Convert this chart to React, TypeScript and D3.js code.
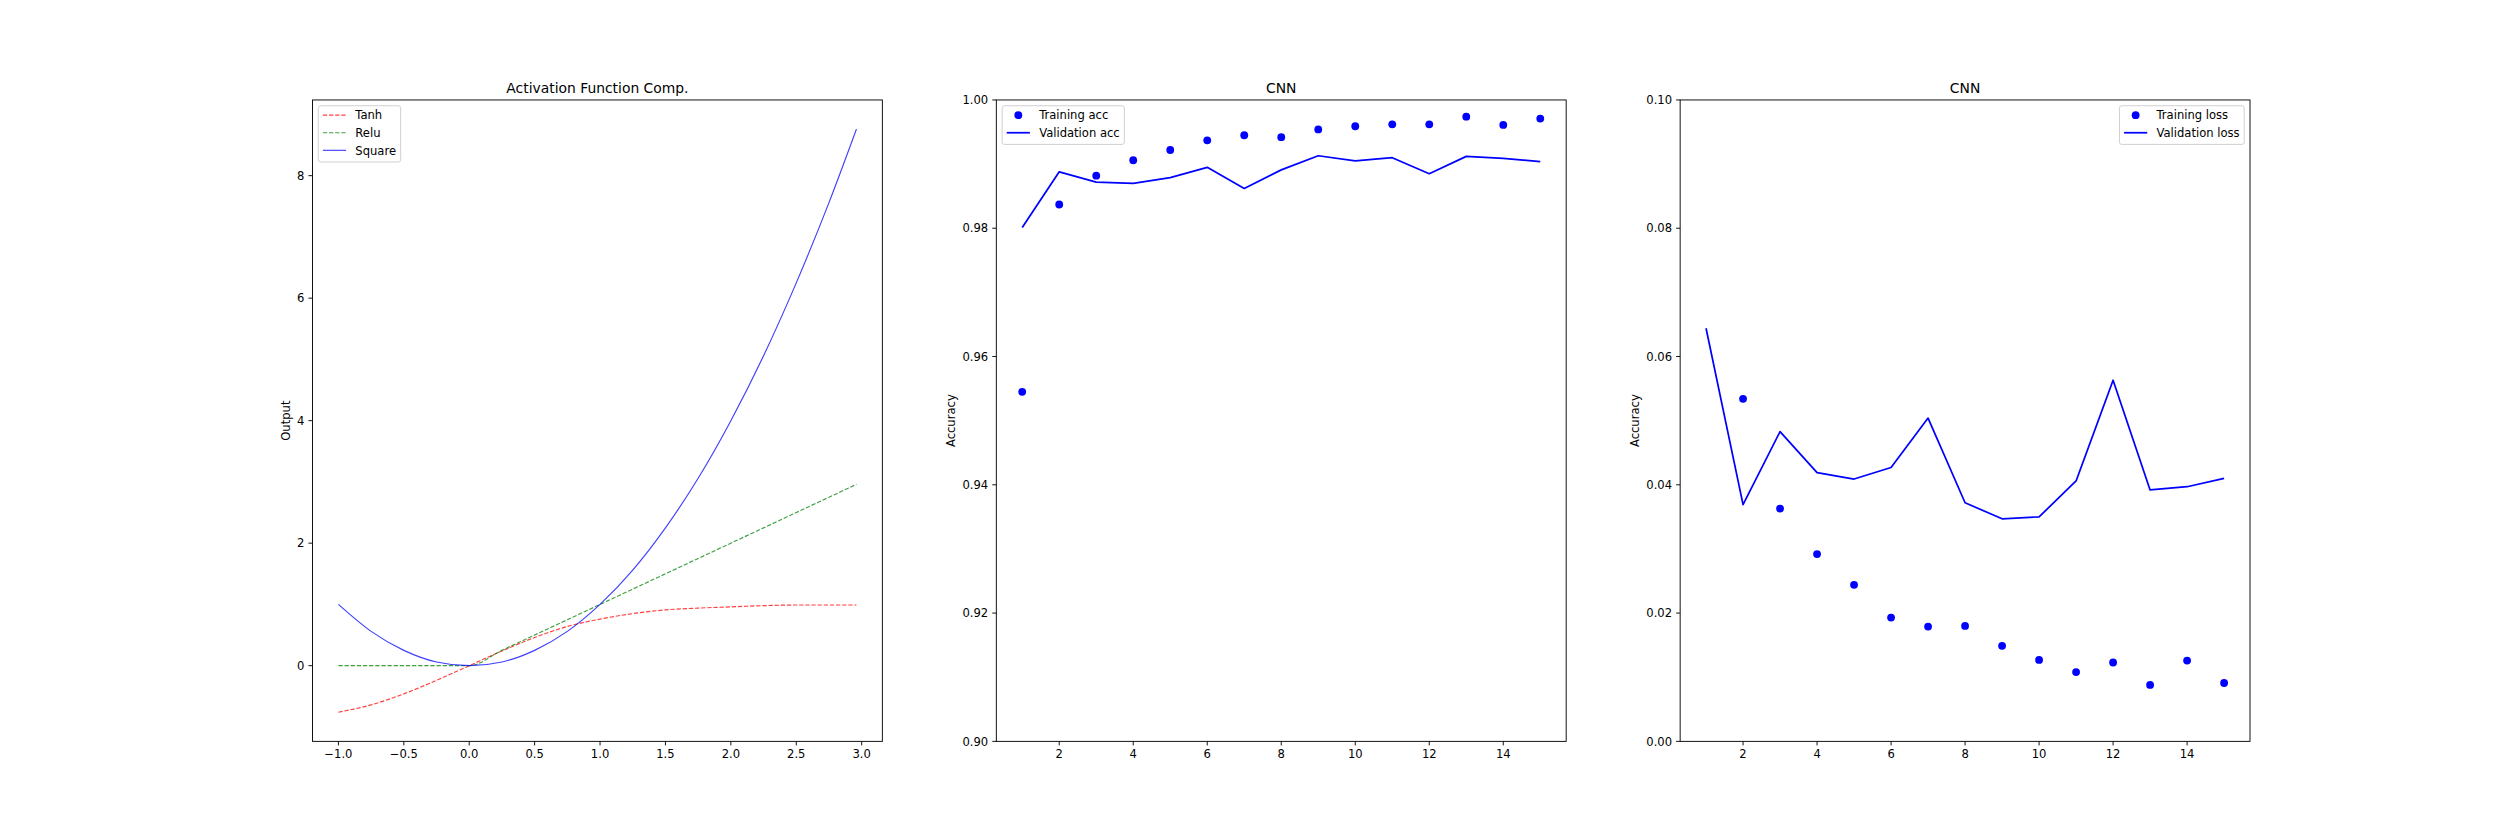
import React, { useEffect } from 'react';
import * as d3 from 'd3';

// ---------- data ----------
const actX = [-1, -0.75, -0.5, -0.25, 0, 0.25, 0.5, 0.75, 1, 1.25, 1.5, 1.75, 2, 2.25, 2.5, 2.75, 2.96];
const tanhY = [-0.76, -0.64, -0.46, -0.24, 0, 0.24, 0.46, 0.64, 0.76, 0.85, 0.91, 0.94, 0.96, 0.98, 0.99, 0.99, 0.99];
const reluY = [0, 0, 0, 0, 0, 0.25, 0.5, 0.75, 1, 1.25, 1.5, 1.75, 2, 2.25, 2.5, 2.75, 2.96];
const squareY = [1, 0.56, 0.25, 0.06, 0, 0.06, 0.25, 0.56, 1, 1.56, 2.25, 3.06, 4, 5.06, 6.25, 7.56, 8.76];

const epochs = [1, 2, 3, 4, 5, 6, 7, 8, 9, 10, 11, 12, 13, 14, 15];
const trainAcc = [0.9545, 0.9837, 0.9882, 0.9906, 0.9922, 0.9937, 0.9945, 0.9942, 0.9954, 0.9959, 0.9962, 0.9962, 0.9974, 0.9961, 0.9971];
const valAcc = [0.9801, 0.9888, 0.9872, 0.987, 0.9879, 0.9895, 0.9862, 0.9891, 0.9913, 0.9905, 0.991, 0.9885, 0.9912, 0.9909, 0.9904];
const trainLoss = [0.145, 0.0534, 0.0363, 0.0292, 0.0244, 0.0193, 0.0179, 0.018, 0.0149, 0.0127, 0.0108, 0.0123, 0.0088, 0.0126, 0.0091];
const valLoss = [0.0644, 0.0369, 0.0483, 0.0419, 0.0409, 0.0427, 0.0504, 0.0372, 0.0347, 0.035, 0.0406, 0.0563, 0.0392, 0.0397, 0.041];

const actXTicks = [-1, -0.5, 0, 0.5, 1, 1.5, 2, 2.5, 3];
const actYTicks = [0, 2, 4, 6, 8];
const epochTicks = [2, 4, 6, 8, 10, 12, 14];
const accTicks = [0.9, 0.92, 0.94, 0.96, 0.98, 1.0];
const lossTicks = [0, 0.02, 0.04, 0.06, 0.08, 0.1];

// ---------- layout ----------
const FIG_W = 2500;
const FIG_H = 833;
const PT = FIG_W / 30 / 72;
const FS = 10 * PT;
const TFS = 12 * PT;
const FONT = "'DejaVu Sans', sans-serif";
const SP = { left: 0.125, right: 0.9, bottom: 0.11, top: 0.88, wspace: 0.2 };
const AX_W = ((SP.right - SP.left) * FIG_W) / (3 + 2 * SP.wspace);
const boxes = [0, 1, 2].map((i) => ({
  x: SP.left * FIG_W + i * AX_W * (1 + SP.wspace),
  y: (1 - SP.top) * FIG_H,
  w: AX_W,
  h: (SP.top - SP.bottom) * FIG_H,
}));

let measureCtx: CanvasRenderingContext2D | null = null;
function textWidth(s: string, size: number) {
  if (typeof document === 'undefined') return s.length * size * 0.6;
  if (!measureCtx) measureCtx = document.createElement('canvas').getContext('2d');
  if (!measureCtx) return s.length * size * 0.6;
  measureCtx.font = `${size}px 'DejaVu Sans'`;
  return measureCtx.measureText(s).width;
}

type Box = { x: number; y: number; w: number; h: number };
type LegendEntry = { label: string; kind: 'line' | 'marker'; color: string; opacity?: number; dash?: string; width?: number };

function Legend({ box, entries, loc }: { box: Box; entries: LegendEntry[]; loc: 'ul' | 'ur' }) {
  const borderAx = 0.5 * FS;
  const borderPad = 0.4 * FS;
  const labelSp = 0.5 * FS;
  const handleLen = 2 * FS;
  const handlePad = 0.8 * FS;
  const rowH = 11.8;
  const tw = Math.max(...entries.map((e) => textWidth(e.label, FS)));
  const lw = 2 * borderPad + handleLen + handlePad + tw;
  const lh = 2 * borderPad + entries.length * rowH + (entries.length - 1) * labelSp;
  const lx = loc === 'ul' ? box.x + borderAx : box.x + box.w - borderAx - lw;
  const ly = box.y + borderAx;
  return (
    <g>
      <rect x={lx} y={ly} width={lw} height={lh} rx={0.2 * FS} fill="#fff" fillOpacity={0.8} stroke="#cccccc" strokeWidth={0.8 * PT} />
      {entries.map((e, i) => {
        const rowTop = ly + borderPad + i * (rowH + labelSp);
        const base = rowTop + rowH - 0.236 * FS;
        const hy = base - 4.3;
        const hx0 = lx + borderPad;
        return (
          <g key={e.label}>
            {e.kind === 'line' ? (
              <line x1={hx0} x2={hx0 + handleLen} y1={hy} y2={hy} stroke={e.color} strokeOpacity={e.opacity ?? 1} strokeWidth={e.width ?? 1.5 * PT} strokeDasharray={e.dash} />
            ) : (
              <circle cx={hx0 + handleLen / 2} cy={hy} r={3.9} fill={e.color} />
            )}
            <text x={hx0 + handleLen + handlePad} y={base} fontSize={FS} fontFamily={FONT} fill="#000">
              {e.label}
            </text>
          </g>
        );
      })}
    </g>
  );
}

function Axes(props: {
  id: string;
  box: Box;
  x: d3.ScaleLinear<number, number>;
  y: d3.ScaleLinear<number, number>;
  xTicks: number[];
  yTicks: number[];
  xFmt: (n: number) => string;
  yFmt: (n: number) => string;
  title: string;
  ylabel: string;
  children: React.ReactNode;
  legend: React.ReactNode;
}) {
  const { id, box, x, y, xTicks, yTicks, xFmt, yFmt, title, ylabel, children, legend } = props;
  const tickLen = 3.5 * PT;
  const pad = 3.5 * PT;
  const lineW = 0.8 * PT;
  const yLabels = yTicks.map(yFmt);
  const maxW = Math.max(...yLabels.map((s) => textWidth(s, FS)));
  const ylabelX = box.x - tickLen - pad - maxW - 4 * PT - 0.236 * FS;
  const bottom = box.y + box.h;
  return (
    <g>
      <defs>
        <clipPath id={id}>
          <rect x={box.x} y={box.y} width={box.w} height={box.h} />
        </clipPath>
      </defs>
      <g clipPath={`url(#${id})`}>{children}</g>
      <rect x={box.x} y={box.y} width={box.w} height={box.h} fill="none" stroke="#000" strokeWidth={lineW} />
      {xTicks.map((t) => (
        <g key={'x' + t}>
          <line x1={x(t)} x2={x(t)} y1={bottom} y2={bottom + tickLen} stroke="#000" strokeWidth={lineW} />
          <text x={x(t)} y={bottom + tickLen + pad + 0.76 * FS} textAnchor="middle" fontSize={FS} fontFamily={FONT} fill="#000">
            {xFmt(t)}
          </text>
        </g>
      ))}
      {yTicks.map((t, i) => (
        <g key={'y' + t}>
          <line x1={box.x - tickLen} x2={box.x} y1={y(t)} y2={y(t)} stroke="#000" strokeWidth={lineW} />
          <text x={box.x - tickLen - pad} y={y(t) + 0.36 * FS} textAnchor="end" fontSize={FS} fontFamily={FONT} fill="#000">
            {yLabels[i]}
          </text>
        </g>
      ))}
      <text x={box.x + box.w / 2} y={box.y - 6 * PT} textAnchor="middle" fontSize={TFS} fontFamily={FONT} fill="#000">
        {title}
      </text>
      <text transform={`translate(${ylabelX},${box.y + box.h / 2}) rotate(-90)`} textAnchor="middle" fontSize={FS} fontFamily={FONT} fill="#000">
        {ylabel}
      </text>
      {legend}
    </g>
  );
}

export default function App() {
  useEffect(() => {
    document.body.style.margin = '0';
  }, []);

  // panel 1
  const b1 = boxes[0];
  const xExt1 = d3.extent(actX) as [number, number];
  const allY1 = [...tanhY, ...reluY, ...squareY];
  const yExt1 = d3.extent(allY1) as [number, number];
  const mx1 = (xExt1[1] - xExt1[0]) * 0.05;
  const my1 = (yExt1[1] - yExt1[0]) * 0.05;
  const x1 = d3.scaleLinear().domain([xExt1[0] - mx1, xExt1[1] + mx1]).range([b1.x, b1.x + b1.w]);
  const y1 = d3.scaleLinear().domain([yExt1[0] - my1, yExt1[1] + my1]).range([b1.y + b1.h, b1.y]);
  const curve1 = (ys: number[]) =>
    d3
      .line<number>()
      .x((_, i) => x1(actX[i]))
      .y((d) => y1(d))
      .curve(d3.curveMonotoneX)(ys) || '';
  const thin = 1.0 * PT;
  const dash = `${3.7 * PT} ${1.6 * PT}`;
  const fadeOp = 0.75;

  // panel 2 & 3
  const b2 = boxes[1];
  const b3 = boxes[2];
  const xm = (epochs[epochs.length - 1] - epochs[0]) * 0.05;
  const x2 = d3.scaleLinear().domain([epochs[0] - xm, epochs[epochs.length - 1] + xm]).range([b2.x, b2.x + b2.w]);
  const y2 = d3.scaleLinear().domain([0.9, 1.0]).range([b2.y + b2.h, b2.y]);
  const x3 = d3.scaleLinear().domain([epochs[0] - xm, epochs[epochs.length - 1] + xm]).range([b3.x, b3.x + b3.w]);
  const y3 = d3.scaleLinear().domain([0, 0.1]).range([b3.y + b3.h, b3.y]);
  const line2 = d3.line<number>().x((_, i) => x2(epochs[i])).y((d) => y2(d));
  const line3 = d3.line<number>().x((_, i) => x3(epochs[i])).y((d) => y3(d));

  const fmt1 = d3.format('.1f');
  const fmtInt = d3.format('d');
  const fmt2 = d3.format('.2f');

  return (
    <svg width={FIG_W} height={FIG_H} style={{ position: 'absolute', left: 0, top: 0, background: '#fff' }} xmlns="http://www.w3.org/2000/svg">
      <rect x={0} y={0} width={FIG_W} height={FIG_H} fill="#fff" />
      <Axes
        id="clip1"
        box={b1}
        x={x1}
        y={y1}
        xTicks={actXTicks}
        yTicks={actYTicks}
        xFmt={fmt1}
        yFmt={fmtInt}
        title="Activation Function Comp."
        ylabel="Output"
        legend={
          <Legend
            box={b1}
            loc="ul"
            entries={[
              { label: 'Tanh', kind: 'line', color: '#ff0000', opacity: fadeOp, dash, width: thin },
              { label: 'Relu', kind: 'line', color: '#008000', opacity: fadeOp, dash, width: thin },
              { label: 'Square', kind: 'line', color: '#0000ff', opacity: fadeOp, width: thin },
            ]}
          />
        }
      >
        <path d={curve1(tanhY)} fill="none" stroke="#ff0000" strokeOpacity={fadeOp} strokeWidth={thin} strokeDasharray={dash} />
        <path d={curve1(reluY)} fill="none" stroke="#008000" strokeOpacity={fadeOp} strokeWidth={thin} strokeDasharray={dash} />
        <path d={curve1(squareY)} fill="none" stroke="#0000ff" strokeOpacity={fadeOp} strokeWidth={thin} />
      </Axes>
      <Axes
        id="clip2"
        box={b2}
        x={x2}
        y={y2}
        xTicks={epochTicks}
        yTicks={accTicks}
        xFmt={fmtInt}
        yFmt={fmt2}
        title="CNN"
        ylabel="Accuracy"
        legend={
          <Legend
            box={b2}
            loc="ul"
            entries={[
              { label: 'Training acc', kind: 'marker', color: '#0000ff' },
              { label: 'Validation acc', kind: 'line', color: '#0000ff' },
            ]}
          />
        }
      >
        {trainAcc.map((v, i) => (
          <circle key={i} cx={x2(epochs[i])} cy={y2(v)} r={3.9} fill="#0000ff" />
        ))}
        <path d={line2(valAcc) || ''} fill="none" stroke="#0000ff" strokeWidth={1.5 * PT} strokeLinejoin="round" />
      </Axes>
      <Axes
        id="clip3"
        box={b3}
        x={x3}
        y={y3}
        xTicks={epochTicks}
        yTicks={lossTicks}
        xFmt={fmtInt}
        yFmt={fmt2}
        title="CNN"
        ylabel="Accuracy"
        legend={
          <Legend
            box={b3}
            loc="ur"
            entries={[
              { label: 'Training loss', kind: 'marker', color: '#0000ff' },
              { label: 'Validation loss', kind: 'line', color: '#0000ff' },
            ]}
          />
        }
      >
        {trainLoss.map((v, i) => (
          <circle key={i} cx={x3(epochs[i])} cy={y3(v)} r={3.9} fill="#0000ff" />
        ))}
        <path d={line3(valLoss) || ''} fill="none" stroke="#0000ff" strokeWidth={1.5 * PT} strokeLinejoin="round" />
      </Axes>
    </svg>
  );
}
